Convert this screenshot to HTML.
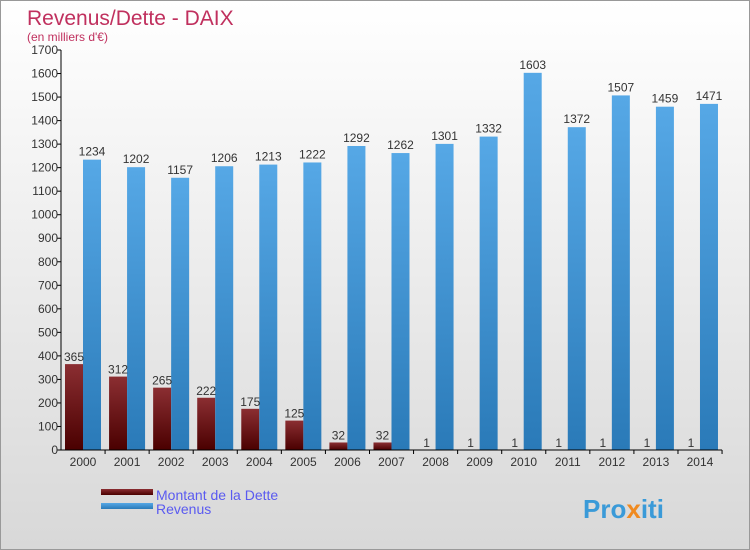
<!DOCTYPE html>
<html><head><meta charset="utf-8"><style>
body{margin:0}
#c{position:relative;width:748px;height:548px;border:1px solid #999;background:linear-gradient(#ffffff,#d8d8d8);font-family:"Liberation Sans",sans-serif;overflow:hidden}
</style></head><body>
<div id="c">
<svg id="s" width="748" height="548" xmlns="http://www.w3.org/2000/svg">
<defs>
<linearGradient id="gd" x1="0" y1="0" x2="0" y2="1"><stop offset="0" stop-color="#8b2e32"/><stop offset="1" stop-color="#4a0000"/></linearGradient>
<linearGradient id="gr" x1="0" y1="0" x2="0" y2="1"><stop offset="0" stop-color="#56a8e6"/><stop offset="1" stop-color="#2a7ab8"/></linearGradient>
</defs>
<text x="26" y="24" font-size="21" fill="#c0305e">Revenus/Dette - DAIX</text>
<text x="26" y="40" font-size="12" fill="#c0305e">(en milliers d'€)</text>
<g id="g"></g>
<rect x="100" y="488" width="52" height="6" fill="url(#gd)"/>
<rect x="100" y="502" width="52" height="6" fill="url(#gr)"/>
<text x="155" y="499" font-size="14" fill="#5a5af0">Montant de la Dette</text>
<text x="155" y="513" font-size="14" fill="#5a5af0">Revenus</text>
<text x="582" y="517" font-size="26" font-weight="bold" fill="#3a9ad8">Pro<tspan fill="#f08a20">x</tspan>iti</text>
</svg>
</div>
<script>
const years=["2000","2001","2002","2003","2004","2005","2006","2007","2008","2009","2010","2011","2012","2013","2014"];
const dette=[365,312,265,222,175,125,32,32,1,1,1,1,1,1,1];
const revenus=[1234,1202,1157,1206,1213,1222,1292,1262,1301,1332,1603,1372,1507,1459,1471];
const ticks=[0,100,200,300,400,500,600,700,800,900,1000,1100,1200,1300,1400,1500,1600,1700];
const NS="http://www.w3.org/2000/svg",g=document.getElementById('g');
const y0=449,ppu=400/1700,x0=60,slot=44.07;
const Y=v=>y0-v*ppu;
function el(t,a){const e=document.createElementNS(NS,t);for(const k in a)e.setAttribute(k,a[k]);g.appendChild(e);return e;}
ticks.forEach(t=>{
 const l=el('line',{x1:x0-4,x2:x0,y1:Y(t),y2:Y(t),stroke:'#000'});
 
 
 const tx=el('text',{x:x0-3,y:Y(t)+4,'font-size':12,fill:'#333','text-anchor':'end'});tx.textContent=t;
 
 
});
years.forEach((yr,i)=>{
 const xs=x0+i*slot;
 const d=el('rect',{x:xs+4,y:Y(dette[i]),width:18,height:dette[i]*ppu,fill:'url(#gd)'});
 
 
 const r=el('rect',{x:xs+22,y:Y(revenus[i]),width:18,height:revenus[i]*ppu,fill:'url(#gr)'});
 
 
 const tl=el('text',{x:xs+13,y:Y(dette[i])-3,'font-size':12,fill:'#333','text-anchor':'middle'});tl.textContent=dette[i];
 
 
 const tr=el('text',{x:xs+31,y:Y(revenus[i])-4,'font-size':12,fill:'#333','text-anchor':'middle'});tr.textContent=revenus[i];
 
 
 const tk=el('line',{x1:xs+slot,x2:xs+slot,y1:y0,y2:y0+4,stroke:'#000'});
 
 
 const xl=el('text',{x:xs+22,y:y0+16,'font-size':12,fill:'#333','text-anchor':'middle'});xl.textContent=yr;
 
 
});
const ya=el('line',{x1:x0,x2:x0,y1:Y(1700),y2:y0,stroke:'#000'});


const xa=el('line',{x1:x0,x2:x0+15*slot,y1:y0,y2:y0,stroke:'#000'});


</script>
</body></html>
